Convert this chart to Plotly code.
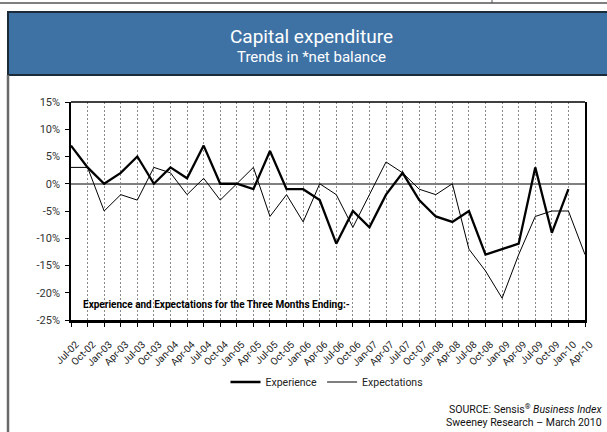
import plotly.graph_objects as go

quarters = ["Jul-02","Oct-02","Jan-03","Apr-03","Jul-03","Oct-03","Jan-04","Apr-04",
            "Jul-04","Oct-04","Jan-05","Apr-05","Jul-05","Oct-05","Jan-06","Apr-06",
            "Jul-06","Oct-06","Jan-07","Apr-07","Jul-07","Oct-07","Jan-08","Apr-08",
            "Jul-08","Oct-08","Jan-09","Apr-09","Jul-09","Oct-09","Jan-10","Apr-10"]

experience = [7, 3, 0, 2, 5, 0, 3, 1, 7, 0, 0, -1, 6, -1, -1, -3,
              -11, -5, -8, -2, 2, -3, -6, -7, -5, -13, -12, -11, 3, -9, -1, None]

expectations = [3, 3, -5, -2, -3, 3, 2, -2, 1, -3, 0, 3, -6, -2, -7, 0,
                -2, -8, -2, 4, 2, -1, -2, 0, -12, -16, -21, -13, -6, -5, -5, -13]

y_ticks = [15, 10, 5, 0, -5, -10, -15, -20, -25]
y_labels = ["15%", "10%", "5%", "0%", "-5%", "-10%", "-15%", "-20%", "-25%"]

FONT = "Roboto, Liberation Sans, sans-serif"

W, H = 607, 432
L, R, T, B = 71, 585, 102, 320


def px(p):
    return (p - L) / (R - L)


def py(p):
    return (B - p) / (B - T)


fig = go.Figure()
fig.add_trace(go.Scatter(x=quarters, y=experience, mode="lines", name="Experience",
                         line=dict(color="black", width=2.3)))
fig.add_trace(go.Scatter(x=quarters, y=expectations, mode="lines", name="Expectations",
                         line=dict(color="black", width=1)))

shapes = [
    dict(type="line", xref="paper", yref="paper", x0=px(0), x1=px(607), y0=py(3), y1=py(3),
         line=dict(color="#555555", width=1.5)),
    dict(type="line", xref="paper", yref="paper", x0=px(492), x1=px(492), y0=py(0), y1=py(3),
         line=dict(color="#555555", width=1)),
    dict(type="rect", xref="paper", yref="paper", x0=px(8), x1=px(612), y0=py(75), y1=py(12),
         fillcolor="#3e72a5", line=dict(color="#1c2b3a", width=2), layer="below"),
    dict(type="line", xref="paper", yref="paper", x0=px(8), x1=px(8), y0=py(75), y1=py(434),
         line=dict(color="#6a6a6a", width=2.5)),
    dict(type="line", xref="paper", yref="paper", x0=0, x1=1, y0=1, y1=1,
         line=dict(color="black", width=1.5)),
]

annotations = [
    dict(text="Capital expenditure", xref="paper", yref="paper", x=px(311), y=py(37),
         xanchor="center", yanchor="middle", showarrow=False,
         font=dict(family=FONT, size=19, color="white")),
    dict(text="Trends in *net balance", xref="paper", yref="paper", x=px(311), y=py(57),
         xanchor="center", yanchor="middle", showarrow=False,
         font=dict(family=FONT, size=15, color="white")),
    dict(text="<b>Experience and Expectations for the Three Months Ending:-</b>",
         xref="paper", yref="paper", x=px(81), y=py(304), xanchor="left", yanchor="middle",
         showarrow=False, font=dict(family=FONT, size=10, color="black")),
    dict(text="SOURCE: Sensis<sup>®</sup> <i>Business Index</i>",
         xref="paper", yref="paper", x=px(604), y=py(409), xanchor="right", yanchor="middle",
         align="right", showarrow=False, font=dict(family=FONT, size=10.5, color="#111111")),
    dict(text="Sweeney Research \u2013 March 2010",
         xref="paper", yref="paper", x=px(604), y=py(422), xanchor="right", yanchor="middle",
         align="right", showarrow=False, font=dict(family=FONT, size=10.5, color="#111111")),
]

fig.update_layout(
    width=W, height=H, autosize=False,
    margin=dict(l=L, r=W - R, t=T, b=H - B),
    paper_bgcolor="white", plot_bgcolor="white",
    font=dict(family=FONT, size=11, color="#222222"),
    showlegend=True,
    legend=dict(orientation="h", x=px(327), y=py(382), xanchor="center", yanchor="middle",
                font=dict(family=FONT, size=10.5, color="#222222"), bgcolor="rgba(0,0,0,0)"),
    shapes=shapes,
    annotations=annotations,
)

fig.update_xaxes(
    type="category", range=[0, len(quarters) - 1],
    showgrid=True, gridcolor="#8a8a8a", griddash="2px,2px", gridwidth=1,
    showline=True, linecolor="black", linewidth=2.5,
    ticks="outside", ticklen=4, tickcolor="black",
    tickangle=-45, tickfont=dict(family=FONT, size=10, color="#222222"),
    ticklabelstandoff=8, ticklabelshift=5,
)
fig.update_yaxes(
    range=[-25, 15], tickmode="array", tickvals=y_ticks, ticktext=y_labels,
    showgrid=False,
    zeroline=True, zerolinecolor="#808080", zerolinewidth=1.5,
    showline=True, linecolor="black", linewidth=1.5, mirror=True,
    ticks="outside", ticklen=4, tickcolor="black",
    tickfont=dict(family=FONT, size=11, color="#333333"),
    ticklabelstandoff=3,
)

fig.write_html("out.html", config={"displayModeBar": False},
               post_script="document.body.style.margin='0';document.body.style.overflow='hidden';")
